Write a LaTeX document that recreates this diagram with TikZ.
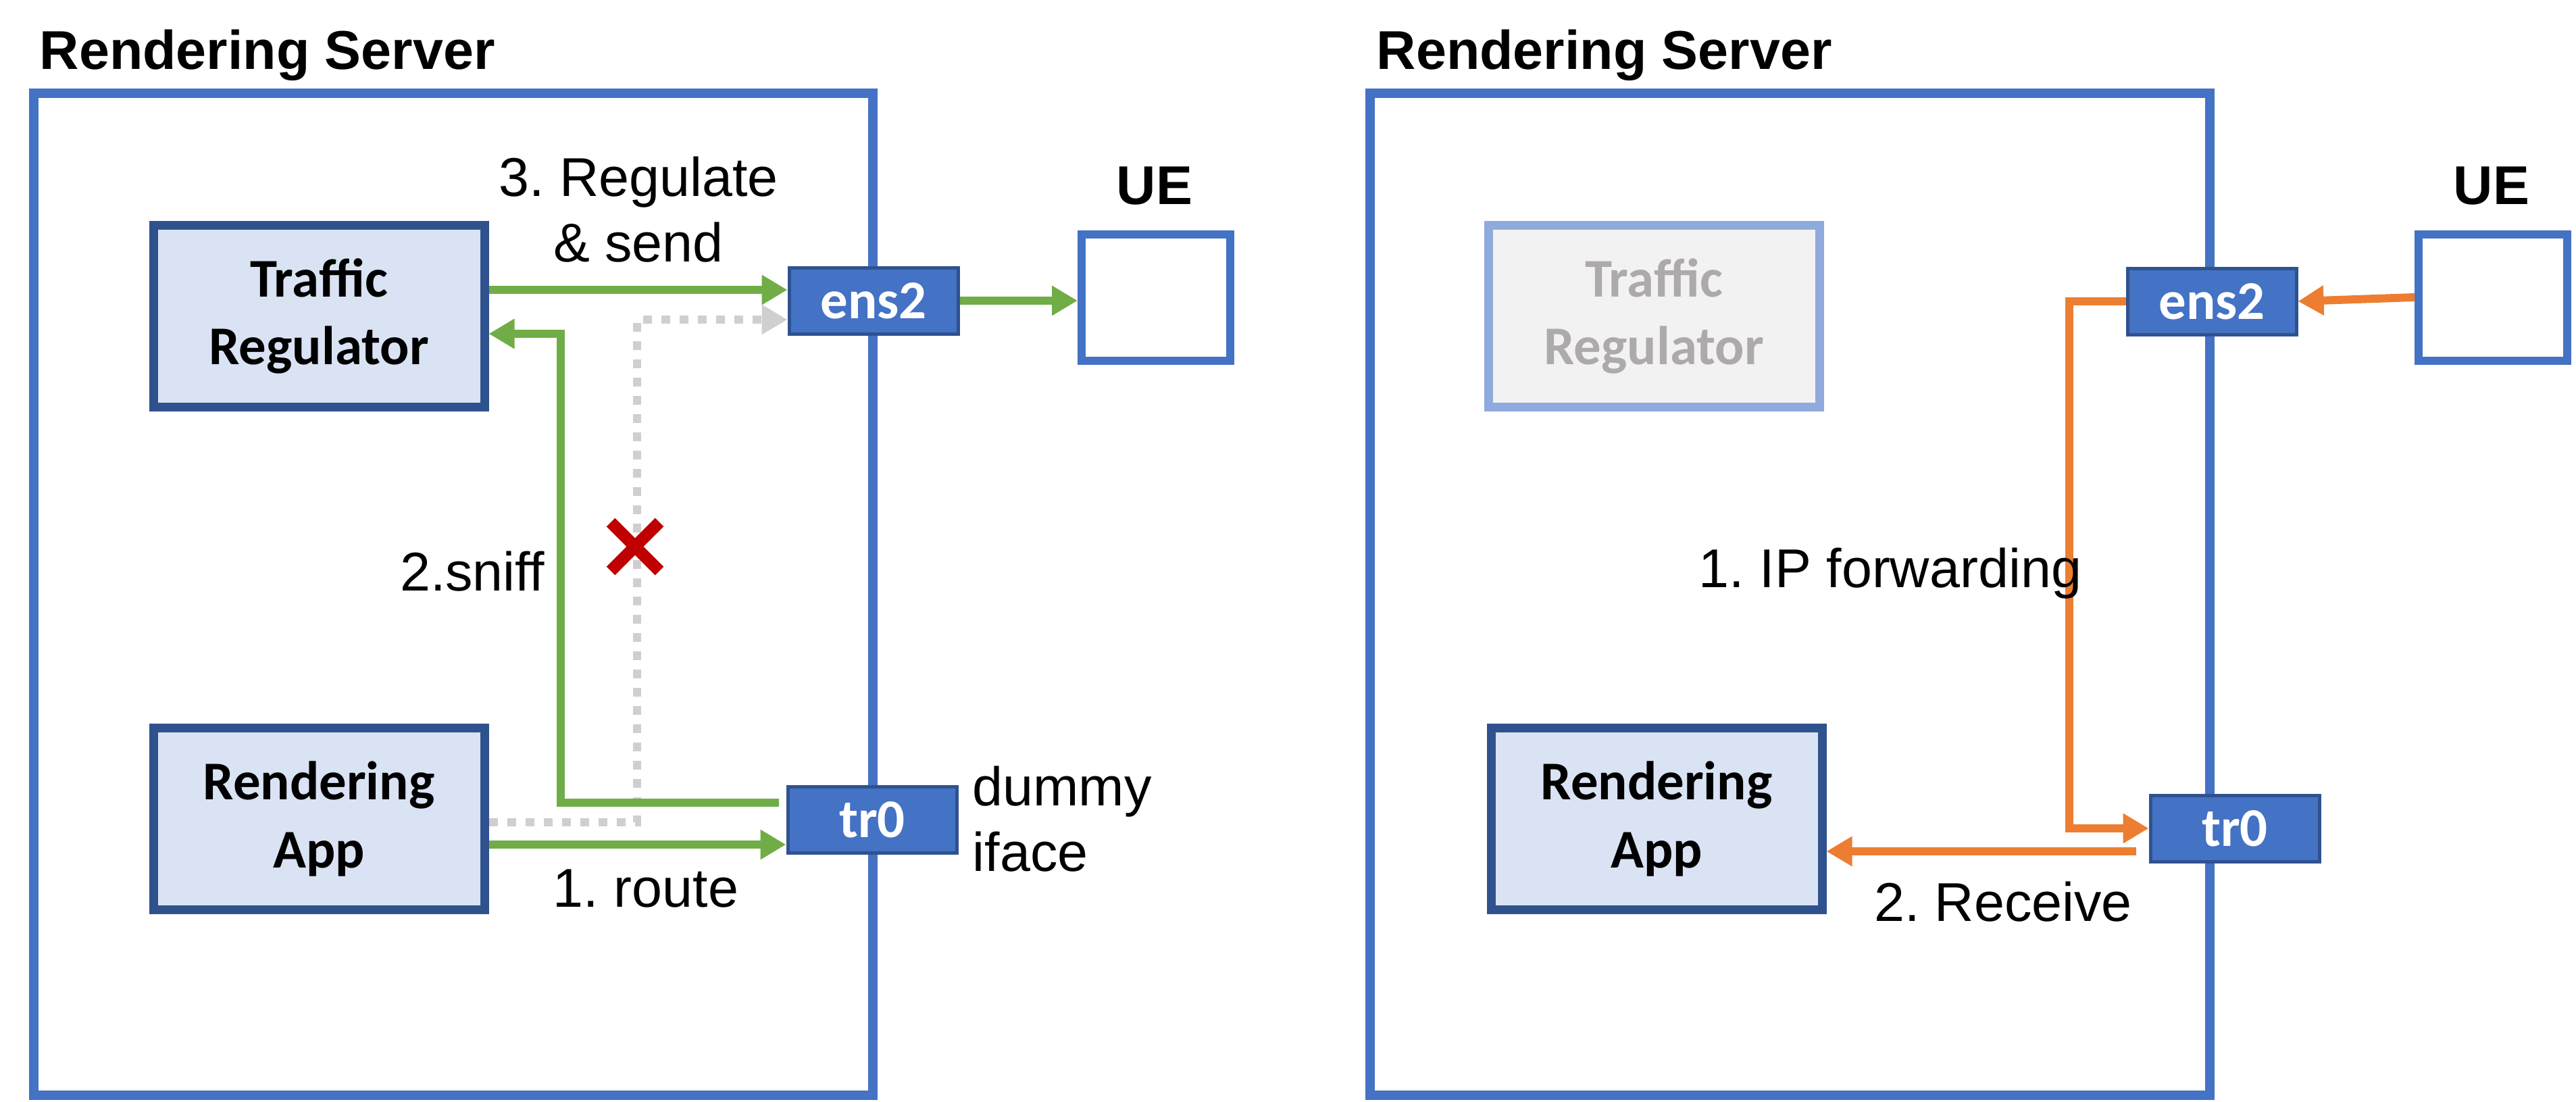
\documentclass[tikz,border=0pt]{standalone}
\usepackage{fontspec}
\setmainfont{Liberation Sans}
\newfontfamily\calib{Carlito}
\usetikzlibrary{arrows.meta,positioning}
\frenchspacing

\definecolor{srvblue}{HTML}{4472C4}
\definecolor{boxfill}{HTML}{DAE3F3}
\definecolor{boxline}{HTML}{2F528F}
\definecolor{flowgreen}{HTML}{70AD47}
\definecolor{floworange}{HTML}{ED7D31}
\definecolor{dotgray}{HTML}{D0CECE}
\definecolor{offfill}{HTML}{F2F2F2}
\definecolor{offline}{HTML}{8FAADC}
\definecolor{offtext}{HTML}{AEAAAA}
\definecolor{crossred}{HTML}{C00000}

\begin{document}
\begin{tikzpicture}[
    font=\fontsize{23}{27.6}\selectfont,
    server/.style={draw=srvblue, line width=0.14cm},
    title/.style={inner sep=0, anchor=base west, font=\bfseries\fontsize{23}{27.6}\selectfont},
    app/.style={draw=boxline, fill=boxfill, line width=0.13cm, minimum width=4.9cm, minimum height=2.69cm,
      align=center, inner sep=0, font=\calib\bfseries\fontsize{23}{28.5}\selectfont},
    appoff/.style={app, draw=offline, fill=offfill, text=offtext},
    iface/.style={draw=boxline, fill=srvblue, line width=0.05cm, minimum width=2.5cm, minimum height=0.98cm,
      inner sep=0, text=white, font=\calib\bfseries\fontsize{23}{28}\selectfont},
    ue/.style={draw=srvblue, line width=0.12cm, minimum width=2.2cm, minimum height=1.87cm},
    lbl/.style={inner sep=0, align=center},
    tip/.style={-{Triangle[length=0.38cm,width=0.42cm]}},
    garrow/.style={tip, draw=flowgreen, line width=0.12cm},
    oarrow/.style={tip, draw=floworange, line width=0.12cm},
    blocked/.style={tip, draw=dotgray, line width=0.12cm, dash pattern=on 0.13cm off 0.14cm},
    cross/.style={draw=crossred, line width=0.18cm}
  ]
  \useasboundingbox (0,0) rectangle (38.13,-16.31);

  % left: regulator in the path
  \node[title] (srvL) at (0.58,-1.02) {Rendering Server};
  \draw[server] (0.50,-1.38) rectangle (12.92,-16.21);

  \node[app] (TR) at (4.72,-4.68) {Traffic\\Regulator};
  \node[app] (RA) at (4.72,-12.12) {Rendering\\App};
  \node[iface] (ens2) at (12.93,-4.45) {ens2};
  \node[iface] (tr0) at (12.91,-12.13) {tr0};
  \node[ue] (UE) at (17.11,-4.40) {};
  \node[lbl, font=\bfseries\fontsize{23}{27.6}\selectfont] (ueL) at (17.09,-2.75) {UE};

  \draw[blocked] ([yshift=-0.05cm]RA.east) -- ++(2.19,0) |- ([yshift=-0.28cm]ens2.west);
  \draw[garrow] ([yshift=0.39cm]TR.east) -- ([yshift=0.39cm]TR.east -| ens2.west);
  \draw[garrow] (ens2.east) -- (ens2.east -| UE.west);
  \draw[garrow] ([xshift=-0.11cm,yshift=0.25cm]tr0.west) -- ++(-3.23,0) |- ([yshift=-0.26cm]TR.east);
  \draw[garrow] ([yshift=-0.38cm]RA.east) -- ([yshift=-0.38cm]RA.east -| tr0.west);
  \draw[cross] (9.04,-7.73) -- (9.76,-8.45) (9.04,-8.45) -- (9.76,-7.73);

  \node[lbl] (regL) at (9.45,-3.10) {3. Regulate\\\& send};
  \node[lbl, anchor=east] (sniffL) at (8.07,-8.46) {2.sniff};
  \node[lbl] (routeL) at (9.56,-13.15) {1. route};
  \node[lbl, anchor=west, align=left] (dummyL) at (14.39,-12.12) {dummy\\iface};

  % right: plain forwarding
  \node[title] (srvR) at (20.37,-1.02) {Rendering Server};
  \draw[server] (20.28,-1.38) rectangle (32.71,-16.21);

  \node[appoff] (TRr) at (24.48,-4.68) {Traffic\\Regulator};
  \node[app] (RAr) at (24.52,-12.12) {Rendering\\App};
  \node[iface] (ens2r) at (32.74,-4.46) {ens2};
  \node[iface] (tr0r) at (33.08,-12.26) {tr0};
  \node[ue] (UEr) at (36.90,-4.40) {};
  \node[lbl, font=\bfseries\fontsize{23}{27.6}\selectfont] (ueR) at (36.88,-2.75) {UE};

  \draw[oarrow] (UEr.west) -- (ens2r.east);
  \draw[oarrow] (ens2r.west) -- ++(-0.84,0) |- (tr0r.west);
  \coordinate (rcv) at ([xshift=-0.19cm,yshift=-0.34cm]tr0r.west);
  \draw[oarrow] (rcv) -- (rcv -| RAr.east);

  \node[lbl] (fwdL) at (27.98,-8.49) {1. IP forwarding};
  \node[lbl] (rcvL) at (29.65,-13.35) {2. Receive};
\end{tikzpicture}
\end{document}
